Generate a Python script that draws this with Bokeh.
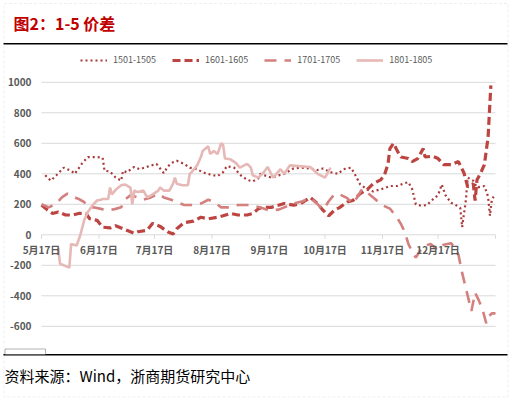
from bokeh.plotting import figure
from bokeh.models import (ColumnDataSource, Legend, LegendItem, Label,
                          LabelSet, BoxAnnotation, Range1d)
from bokeh.embed import file_html
from bokeh.resources import INLINE
from bokeh.core.properties import value

# x values are days since 2017-05-17
tick_days = [0, 31, 61, 92, 123, 153, 184, 214, 245]
tick_labels = ["5月17日", "6月17日", "7月17日", "8月17日", "9月17日", "10月17日", "11月17日", "12月17日", ""]
y_ticks = [-600, -400, -200, 0, 200, 400, 600, 800, 1000]
y_labels = [str(t) for t in y_ticks]

series_names = ["1501-1505", "1601-1605", "1701-1705", "1801-1805"]

days_1501 = [2, 5, 8, 12, 16, 18, 22, 25, 30, 33, 34, 37, 40, 43, 44, 46, 50, 53, 58, 62, 66, 68, 70, 73, 77, 80,
             84, 87, 91, 95, 98, 100, 104, 107, 111, 114, 117, 118, 124, 131, 136, 140, 145, 149, 152, 156, 160,
             163, 167, 169, 172, 176, 179, 185, 188, 192, 195, 198, 200, 202, 205, 208, 211, 214, 216, 218, 221,
             223, 226, 227, 229, 230, 233, 235, 239, 241, 242, 243, 244]
vals_1501 = [390, 355, 390, 440, 420, 400, 470, 510, 510, 505, 420, 415, 375, 355, 420, 410, 445, 430, 450, 465,
             405, 445, 470, 485, 465, 440, 430, 410, 395, 385, 410, 450, 440, 395, 360, 350, 370, 400, 375, 400,
             435, 440, 435, 425, 435, 410, 400, 430, 440, 400, 330, 295, 285, 305, 320, 320, 335, 345, 300, 200,
             190, 195, 230, 260, 330, 260, 210, 200, 175, 50, 225, 375, 355, 310, 320, 250, 125, 230, 250]

days_1601 = [0, 3, 6, 9, 13, 17, 20, 24, 26, 30, 33, 37, 40, 44, 46, 50, 52, 57, 60, 64, 68, 71, 73, 77, 82, 86,
             90, 95, 98, 102, 106, 111, 114, 117, 119, 124, 131, 136, 140, 145, 149, 152, 155, 158, 161, 165, 168,
             172, 176, 179, 183, 185, 187, 188, 190, 192, 194, 198, 200, 203, 206, 207, 211, 214, 217, 221, 225,
             228, 230, 233, 234, 235, 237, 239, 241, 242.5]
vals_1601 = [195, 165, 140, 150, 130, 130, 140, 140, 105, 95, 50, 45, 60, 40, 30, 10, 20, 30, 75, 55, 20, 5, 40,
             80, 90, 115, 105, 115, 125, 140, 130, 130, 140, 170, 180, 180, 205, 195, 205, 245, 205, 160, 125,
             160, 180, 215, 225, 270, 300, 335, 360, 390, 465, 565, 600, 550, 510, 500, 480, 500, 565, 510, 515,
             500, 460, 460, 480, 405, 315, 335, 225, 360, 405, 460, 640, 980]

days_1701 = [0, 4, 8, 11, 14, 17, 20, 23, 25, 28, 32, 36, 40, 43, 45, 48, 52, 55, 59, 63, 66, 70, 73, 77, 82, 86,
             90, 93, 97, 102, 106, 111, 115, 119, 123, 128, 132, 136, 141, 145, 149, 152, 155, 158, 161, 165, 168,
             170, 173, 176, 180, 183, 188, 192, 194, 196, 198, 200, 202, 204, 206, 210, 214, 217, 221, 223, 225,
             227, 229, 231, 232, 234, 236, 238, 240, 241, 243, 245]
vals_1701 = [200, 180, 205, 245, 270, 250, 235, 215, 185, 180, 170, 160, 170, 180, 230, 260, 245, 230, 245, 270,
             245, 230, 215, 195, 195, 205, 230, 215, 180, 180, 195, 195, 190, 175, 160, 165, 185, 205, 220, 245,
             200, 165, 220, 265, 265, 240, 205, 240, 300, 275, 235, 200, 172, 110, 70, 20, -60, -110, -150, -110,
             -75, -60, -100, -65, -55, -85, -130, -250, -350, -450, -500, -380, -430, -490, -580, -540, -515, -515]

days_1801 = [9, 10, 15, 16, 19, 21, 23, 25, 28, 30, 32, 33, 36, 37, 38, 40, 43, 45, 48, 49, 50, 52, 55, 57, 60,
             63, 64, 66, 69, 71, 72, 73, 76, 79, 80, 81, 84, 86, 87, 90, 91, 93, 95, 97, 98, 99, 102, 105, 107,
             111, 113, 114, 117, 120, 122, 125, 129, 131, 134, 145, 149, 153, 156]
vals_1801 = [-85, -190, -215, -60, -70, 0, 95, 150, 200, 225, 230, 235, 235, 310, 265, 295, 325, 330, 310, 200,
             290, 280, 290, 245, 265, 290, 310, 290, 290, 335, 375, 335, 325, 325, 400, 410, 455, 510, 550, 580,
             530, 550, 530, 600, 590, 500, 495, 470, 440, 465, 440, 390, 375, 410, 445, 375, 430, 400, 455, 445,
             400, 375, 440]

colors = ["#A8393A", "#BC4542", "#D3807E", "#E6B8B6"]
widths = [2.2, 3.2, 2.6, 2.6]
dashes = ["2 3", "8 4", "12 8", "solid"]

W, H = 511, 399
# the plot frame covers the whole canvas; the data ranges put the chart area where it sits on the page
PX_PER_DAY = 454 / 245.0
PX_PER_UNIT = 30.5 / 200.0
X0_PX, Y0_PX = 41, 234.3
p = figure(width=W, height=H, output_backend="svg", toolbar_location=None,
           x_range=Range1d(-X0_PX / PX_PER_DAY, (W - X0_PX) / PX_PER_DAY),
           y_range=Range1d((Y0_PX - H) / PX_PER_UNIT, Y0_PX / PX_PER_UNIT),
           min_border=0, min_border_left=0, min_border_right=0, min_border_top=0, min_border_bottom=0)
p.outline_line_color = None
p.background_fill_color = "white"
p.border_fill_color = "white"
p.axis.visible = False
p.grid.visible = False

x_first, x_last = tick_days[0], tick_days[-1]
# horizontal gridlines
p.segment(x0=[x_first] * len(y_ticks), x1=[x_last] * len(y_ticks), y0=y_ticks, y1=y_ticks,
          line_color="#D9D9D9", line_width=1)
ylab_src = ColumnDataSource(dict(x=[x_first] * len(y_ticks), y=y_ticks, text=y_labels))
p.add_layout(LabelSet(x="x", y="y", text="text", source=ylab_src, text_align="right",
                      text_baseline="middle", x_offset=-10, text_font=value("Noto Sans CJK SC"),
                      text_font_size="10px", text_font_style="bold", text_color="#595959"))

# x axis ticks and labels along zero line
p.segment(x0=tick_days, y0=[0] * len(tick_days), x1=tick_days, y1=[-26] * len(tick_days),
          line_color="#D9D9D9", line_width=1)
lab_src = ColumnDataSource(dict(x=tick_days[:-1], y=[-96] * (len(tick_days) - 1), text=tick_labels[:-1]))
p.add_layout(LabelSet(x="x", y="y", text="text", source=lab_src, text_align="center",
                      text_baseline="middle", text_font=value("Noto Sans CJK SC"),
                      text_font_size="10px", text_font_style="bold", text_color="#595959"))

all_days = [days_1501, days_1601, days_1701, days_1801]
all_vals = [vals_1501, vals_1601, vals_1701, vals_1801]
renderers = []
for d, v, c, w, ds in zip(all_days, all_vals, colors, widths, dashes):
    r = p.line(d, v, line_color=c, line_width=w, line_dash=ds)
    renderers.append(r)

legend = Legend(items=[LegendItem(label=n, renderers=[r]) for n, r in zip(series_names, renderers)],
                orientation="horizontal", location=(80, H - 66), border_line_color=None,
                background_fill_alpha=0, glyph_width=27, glyph_height=12, label_height=12,
                label_standoff=6, spacing=16, padding=0, margin=0,
                label_text_font="Noto Sans CJK SC", label_text_font_size="9px",
                label_text_color="#595959")
p.add_layout(legend)

def box(left, right, bottom, top, **kw):
    return BoxAnnotation(left=left, right=right, bottom=bottom, top=top,
                         left_units="screen", right_units="screen", top_units="screen",
                         bottom_units="screen", **kw)

# page decorations, in screen pixels (y measured from the bottom)
p.add_layout(box(3.5, 507.5, 2.5, 396, fill_alpha=0, line_color="#C8C8C8", line_dash="3 2", line_width=1))
p.add_layout(box(3, 507, H - 44, H - 42.5, fill_color="black", fill_alpha=1, line_color=None))
p.add_layout(box(3, 507, H - 355, H - 353.6, fill_color="black", fill_alpha=1, line_color=None))
p.add_layout(box(4.5, 45, H - 354, H - 348.5, fill_color="white", fill_alpha=1, line_color="black",
                 line_width=1))

p.add_layout(Label(x=13, y=H - 22.5, x_units="screen", y_units="screen", text="图2：1-5 价差",
                   text_font="Noto Sans CJK SC", text_font_size="16px", text_font_style="bold",
                   text_color="#C00000", text_baseline="middle", text_align="left"))
p.add_layout(Label(x=4, y=H - 375, x_units="screen", y_units="screen",
                   text="资料来源：Wind，浙商期货研究中心",
                   text_font="Noto Sans CJK SC", text_font_size="15px",
                   text_color="black", text_baseline="middle", text_align="left"))

open("out.html", "w").write(file_html(p, INLINE))
